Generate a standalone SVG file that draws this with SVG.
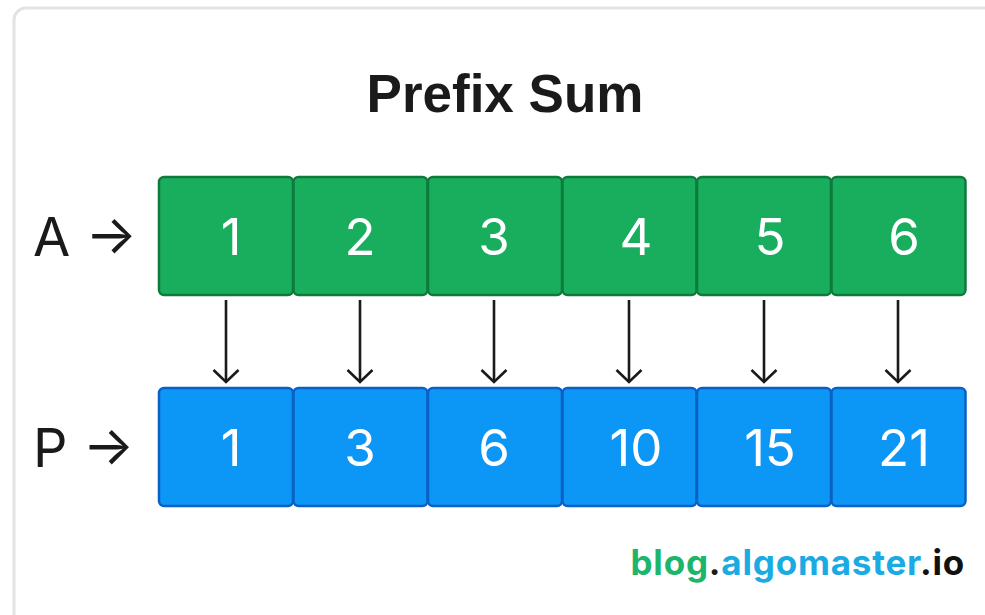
<svg xmlns="http://www.w3.org/2000/svg" width="985" height="615" viewBox="0 0 985 615">
<defs>
<marker id="ah" viewBox="0 0 16 28" refX="14" refY="14" markerWidth="16" markerHeight="28" markerUnits="userSpaceOnUse" orient="auto">
<path d="M2,1.5 L14,14 L2,26.5" fill="none" stroke="#1a1a1a" stroke-width="2.6"/>
</marker>
<style>
.ga{fill:#19AE5E;stroke:#0E7A3C;stroke-width:2.5}
.bp{fill:#0C96F6;stroke:#0A60C4;stroke-width:2.5}
.num{font-family:Inter,"Liberation Sans",sans-serif;font-size:51px;fill:#fff;text-anchor:middle}
.lbl{font-family:Inter,"Liberation Sans",sans-serif;font-size:54px;fill:#1a1a1a}
.conn line{stroke:#1a1a1a;stroke-width:2.6}
</style>
</defs>
<rect width="985" height="615" fill="#fff"/>
<rect x="14" y="8" width="1000" height="640" rx="12" fill="#fff" stroke="#e3e3e3" stroke-width="3"/>
<text x="505" y="112" text-anchor="middle" font-family="'Liberation Sans',Arial,sans-serif" font-weight="bold" font-size="53" fill="#1a1a1a">Prefix Sum</text>
<g id="labelA"><text class="lbl" x="33" y="256">A →</text></g>
<g id="labelP"><text class="lbl" x="33" y="467">P →</text></g>
<g id="a0"><rect class="ga" x="159" y="177" width="134" height="118" rx="5"/><text class="num" x="231" y="255">1</text></g>
<g id="a1"><rect class="ga" x="293.5" y="177" width="134" height="118" rx="5"/><text class="num" x="360" y="255">2</text></g>
<g id="a2"><rect class="ga" x="428" y="177" width="134" height="118" rx="5"/><text class="num" x="494" y="255">3</text></g>
<g id="a3"><rect class="ga" x="562.5" y="177" width="134" height="118" rx="5"/><text class="num" x="636" y="255">4</text></g>
<g id="a4"><rect class="ga" x="697" y="177" width="134" height="118" rx="5"/><text class="num" x="770" y="255">5</text></g>
<g id="a5"><rect class="ga" x="831.5" y="177" width="134" height="118" rx="5"/><text class="num" x="904" y="255">6</text></g>
<g id="p0"><rect class="bp" x="159" y="388" width="134" height="118" rx="5"/><text class="num" x="231" y="466">1</text></g>
<g id="p1"><rect class="bp" x="293.5" y="388" width="134" height="118" rx="5"/><text class="num" x="360" y="466">3</text></g>
<g id="p2"><rect class="bp" x="428" y="388" width="134" height="118" rx="5"/><text class="num" x="494" y="466">6</text></g>
<g id="p3"><rect class="bp" x="562.5" y="388" width="134" height="118" rx="5"/><text class="num" x="636" y="466">10</text></g>
<g id="p4"><rect class="bp" x="697" y="388" width="134" height="118" rx="5"/><text class="num" x="770" y="466">15</text></g>
<g id="p5"><rect class="bp" x="831.5" y="388" width="134" height="118" rx="5"/><text class="num" x="904" y="466">21</text></g>
<g id="connectors" class="conn">
<line x1="226" y1="300" x2="226" y2="382" marker-end="url(#ah)"/>
<line x1="360" y1="300" x2="360" y2="382" marker-end="url(#ah)"/>
<line x1="494" y1="300" x2="494" y2="382" marker-end="url(#ah)"/>
<line x1="629" y1="300" x2="629" y2="382" marker-end="url(#ah)"/>
<line x1="764" y1="300" x2="764" y2="382" marker-end="url(#ah)"/>
<line x1="898" y1="300" x2="898" y2="382" marker-end="url(#ah)"/>
</g>
<text x="965" y="575" text-anchor="end" font-family="Inter,'Liberation Sans',sans-serif" font-weight="bold" font-size="35" letter-spacing="0.8"><tspan fill="#1DB56C">blog</tspan><tspan fill="#1a1a1a">.</tspan><tspan fill="#1AABE3">algomaster</tspan><tspan fill="#111">.io</tspan></text>
</svg>
